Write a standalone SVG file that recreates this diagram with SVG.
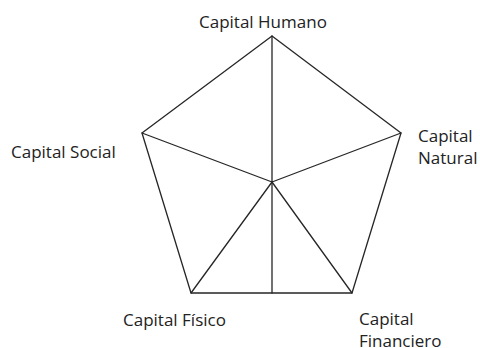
<svg xmlns="http://www.w3.org/2000/svg" width="480" height="348" viewBox="0 0 480 348">
<style>
.l{stroke:#262626;stroke-width:1.3;fill:none;stroke-linecap:round;stroke-linejoin:round}
.t{font-family:"Open Sans","Noto Sans",sans-serif;font-size:17px;fill:#222}
</style>
<rect width="480" height="348" fill="#fff"/>
<g id="connectors">
<polygon class="l" points="272,36 401,133 352,293 191,293 142,133"/>
<line class="l" x1="272" y1="182" x2="272" y2="36"/>
<line class="l" x1="272" y1="182" x2="401" y2="133"/>
<line class="l" x1="272" y1="182" x2="142" y2="133"/>
<line class="l" x1="272" y1="182" x2="191" y2="293"/>
<line class="l" x1="272" y1="182" x2="352" y2="293"/>
<line class="l" x1="272" y1="182" x2="272" y2="293"/>
</g>
<g id="humano"><text class="t" x="199" y="28">Capital Humano</text></g>
<g id="social"><text class="t" x="11" y="158">Capital Social</text></g>
<g id="natural"><text class="t" x="418" y="142">Capital</text><text class="t" x="418" y="164">Natural</text></g>
<g id="fisico"><text class="t" x="123" y="326">Capital Físico</text></g>
<g id="financiero"><text class="t" x="359" y="325">Capital</text><text class="t" x="359" y="347">Financiero</text></g>
</svg>
